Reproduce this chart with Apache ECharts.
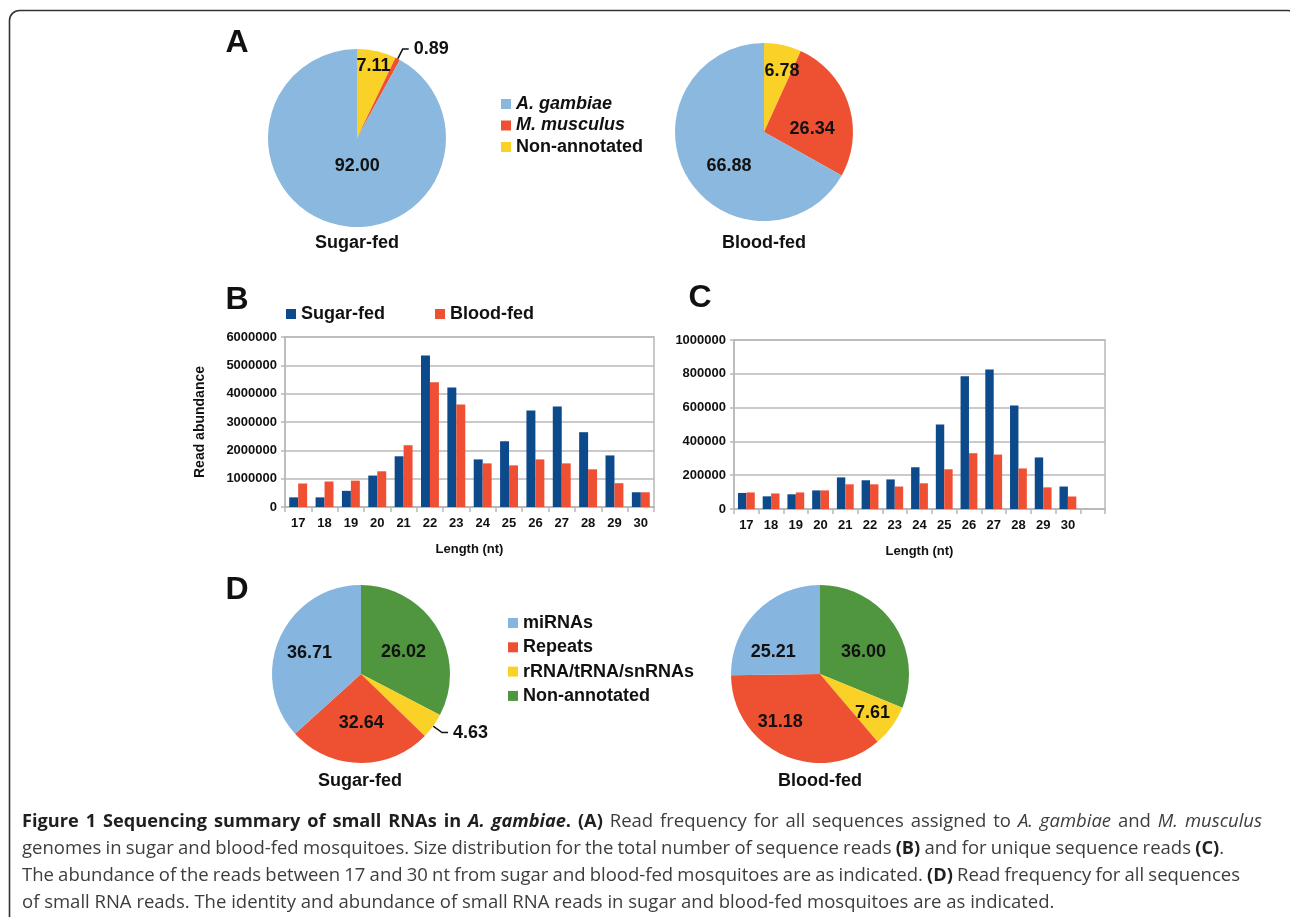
<!DOCTYPE html>
<html><head><meta charset="utf-8">
<script src="https://cdn.jsdelivr.net/npm/echarts/dist/echarts.min.js"></script>
<style>html,body{margin:0;padding:0;background:#fff}#c{width:1290px;height:917px}</style>
</head><body><div id="c"></div>
<script>
// ---- data ----
const lengths = ['17','18','19','20','21','22','23','24','25','26','27','28','29','30'];
const lengthsC = lengths.concat(['']);
const sugarTotal = [340000, 340000, 570000, 1110000, 1790000, 5350000, 4220000, 1680000, 2320000, 3410000, 3550000, 2640000, 1820000, 520000];
const bloodTotal = [830000, 900000, 930000, 1260000, 2180000, 4400000, 3620000, 1540000, 1470000, 1680000, 1540000, 1330000, 840000, 520000];
const sugarUnique = [95000, 75000, 87000, 110000, 187000, 170000, 175000, 247000, 500000, 785000, 826000, 613000, 305000, 133000];
const bloodUnique = [98000, 92000, 98000, 110000, 146000, 146000, 133000, 152000, 235000, 330000, 322000, 240000, 128000, 74000];
const genomeNames = ['Non-annotated', 'M. musculus', 'A. gambiae'];
const genomeSugar = [7.11, 0.89, 92.00];
const genomeBlood = [6.78, 26.34, 66.88];
const rnaNames = ['Non-annotated', 'rRNA/tRNA/snRNAs', 'Repeats', 'miRNAs'];
// slice sizes as drawn in the picture
const rnaSugar = [32.64, 4.63, 26.02, 36.71];
const rnaBlood = [31.18, 7.61, 36.00, 25.21];
// slice labels as printed in the picture
const rnaSugarLabels = ['26.02', '4.63', '32.64', '36.71'];
const rnaBloodLabels = ['36.00', '7.61', '31.18', '25.21'];

// caption lines: [style, text] runs
const captionLines = [
  [['b', 'Figure 1 Sequencing summary of small RNAs in '], ['bi', 'A. gambiae'], ['b', '. (A)'],
   ['n', ' Read frequency for all sequences assigned to '], ['i', 'A. gambiae'], ['n', ' and '], ['i', 'M. musculus']],
  [['n', 'genomes in sugar and blood-fed mosquitoes. Size distribution for the total number of sequence reads '], ['b', '(B)'],
   ['n', ' and for unique sequence reads '], ['b', '(C)'], ['n', '.']],
  [['n', 'The abundance of the reads between 17 and 30 nt from sugar and blood-fed mosquitoes are as indicated. '], ['b', '(D)'],
   ['n', ' Read frequency for all sequences']],
  [['n', 'of small RNA reads. The identity and abundance of small RNA reads in sugar and blood-fed mosquitoes are as indicated.']]
];

const genomeColors = ['#fad227', '#ee5132', '#8bb8df'];
const rnaColors = ['#4f963e', '#fad227', '#ee5132', '#86b5df'];
const BLUE = '#0c4a8b', RED = '#ef5033', GRIDC = '#b8b8b8';
const F = 'Liberation Sans, Arial, sans-serif';
const CF = 'Open Sans';

// label nudges (pixels) to follow the reference's label placement
const labelNudge = [
  [[6, -26], [0, 0], [12, -18]],
  [[8, -15], [3, 12], [6, 10]],
  [[2, 3], [0, 0], [1, 2], [-8, -2]],
  [[4, 5], [14, 11], [-20, 5], [-13, 11]]
];

const chart = echarts.init(document.getElementById('c'), null, {renderer: 'canvas'});

function pieData(names, vals, colors, outsideIdx) {
  return names.map((n, i) => {
    const d = {name: n, value: vals[i], itemStyle: {color: colors[i]}};
    if (i === outsideIdx) {
      d.label = {position: 'outside'};
      d.labelLine = {show: true, length: 11, length2: 6, smooth: false, lineStyle: {color: '#111', width: 1.5}};
    }
    return d;
  });
}
function pie(si, center, names, vals, colors, outsideIdx, texts) {
  return {
    type: 'pie', center: center, radius: 89, startAngle: 90, clockwise: true,
    avoidLabelOverlap: false, legendHoverLink: false, silent: true,
    itemStyle: {borderWidth: 0},
    label: {show: true, position: 'inside', color: '#111', fontFamily: F, fontWeight: 'bold', fontSize: 18,
      formatter: p => texts ? texts[p.dataIndex] : p.value.toFixed(2)},
    labelLine: {show: false},
    labelLayout: p => {
      const o = labelNudge[si][p.dataIndex] || [0, 0];
      return {dx: o[0], dy: o[1]};
    },
    data: pieData(names, vals, colors, outsideIdx)
  };
}
function valAxis(gi, max, interval) {
  return {
    type: 'value', gridIndex: gi, min: 0, max: max, interval: interval,
    axisLine: {show: true, lineStyle: {color: GRIDC, width: 1.5}},
    axisTick: {show: true, length: 4, lineStyle: {color: GRIDC, width: 1.5}},
    axisLabel: {color: '#111', fontFamily: F, fontWeight: 'bold', fontSize: 13, margin: 8,
      formatter: v => String(v)},
    splitLine: {show: true, lineStyle: {color: GRIDC, width: 1.5}}
  };
}
function catAxis(gi, cats) {
  return {
    type: 'category', gridIndex: gi, data: cats,
    name: 'Length (nt)', nameLocation: 'middle', nameGap: 36,
    nameTextStyle: {color: '#111', fontFamily: F, fontWeight: 'bold', fontSize: 13},
    axisLine: {show: true, lineStyle: {color: GRIDC, width: 1.5}},
    axisTick: {show: true, length: 5, alignWithLabel: false, lineStyle: {color: GRIDC, width: 1.5}},
    axisLabel: {color: '#111', fontFamily: F, fontWeight: 'bold', fontSize: 13, margin: 10, interval: 0}
  };
}
function bars(gi, name, data, color) {
  return {type: 'bar', name: name, xAxisIndex: gi, yAxisIndex: gi, data: data,
    itemStyle: {color: color}, barGap: '0%', barCategoryGap: '32%', silent: true};
}
function txt(x, y, text, size, extra) {
  return {type: 'text', x: x, y: y, silent: true,
    style: Object.assign({text: text, fontFamily: F, fontWeight: 'bold', fontSize: size, fill: '#111',
      align: 'center', verticalAlign: 'middle'}, extra || {})};
}

// caption styling
const CS = 18.5, CB = 18.2;
const capStyles = {
  b: {fontFamily: CF, fontSize: CB, fontWeight: 'bold', fontStyle: 'normal', color: '#1f1f1f'},
  bi: {fontFamily: CF, fontSize: CB, fontWeight: 'bold', fontStyle: 'italic', color: '#1f1f1f'},
  n: {fontFamily: CF, fontSize: CS, fontWeight: 'normal', fontStyle: 'normal', color: '#3d3d3d'},
  i: {fontFamily: CF, fontSize: CS, fontWeight: 'normal', fontStyle: 'italic', color: '#3d3d3d'}
};
const captionRight = [1262, 1224, 1240, null];
const captionLeft = 22;
const captionY = [822, 849, 876, 903];
const mctx = document.createElement('canvas').getContext('2d');
function measure(st, t) {
  const s = capStyles[st];
  mctx.font = s.fontStyle + ' ' + s.fontWeight + ' ' + s.fontSize + 'px "' + s.fontFamily + '"';
  return mctx.measureText(t).width;
}
function buildLine(runs, right) {
  const rich = {};
  Object.keys(capStyles).forEach(k => {
    const s = capStyles[k];
    rich[k] = {fontFamily: s.fontFamily, fontSize: s.fontSize, fontWeight: s.fontWeight, fontStyle: s.fontStyle,
      color: s.color, fill: s.color};
  });
  const toks = [];
  runs.forEach(([st, t]) => {
    t.split(/( )/).forEach(part => { if (part !== '') toks.push([st, part]); });
  });
  let wordsW = 0, nsp = 0;
  toks.forEach(([st, p]) => { if (p === ' ') nsp++; else wordsW += measure(st, p); });
  let spW = null;
  if (right != null && nsp > 0) spW = (right - captionLeft - wordsW) / nsp;
  let str = '';
  toks.forEach(([st, p]) => {
    if (p === ' ' && spW != null) str += '{sp_' + st + '| }';
    else str += '{' + st + '|' + p + '}';
  });
  if (spW != null) {
    Object.keys(capStyles).forEach(k => { rich['sp_' + k] = Object.assign({}, rich[k], {width: spW}); });
  }
  return {text: str, rich: rich};
}

const graphics = [
  {type: 'rect', silent: true, shape: {x: 9.5, y: 10.5, width: 1288, height: 940, r: 10},
    style: {fill: 'none', stroke: '#333', lineWidth: 1.6}},
  txt(237, 43, 'A', 32), txt(237, 300, 'B', 32), txt(700, 298, 'C', 32), txt(237, 590, 'D', 32),
  txt(357, 243, 'Sugar-fed', 18), txt(764, 243, 'Blood-fed', 18),
  txt(360, 781, 'Sugar-fed', 18), txt(820, 781, 'Blood-fed', 18)
];
captionLines.forEach((runs, k) => {
  const L = buildLine(runs, captionRight[k]);
  graphics.push({type: 'text', x: captionLeft, y: captionY[k], silent: true,
    style: {text: L.text, rich: L.rich, fontFamily: CF, fontSize: CS, fill: '#333', align: 'left', verticalAlign: 'middle'}});
});

const option = {
  animation: false,
  backgroundColor: '#fff',
  grid: [
    {left: 285, right: 636, top: 337, bottom: 410, show: true, borderColor: GRIDC, borderWidth: 1.5, containLabel: false},
    {left: 734, right: 185, top: 340, bottom: 408, show: true, borderColor: GRIDC, borderWidth: 1.5, containLabel: false}
  ],
  xAxis: [catAxis(0, lengths), catAxis(1, lengthsC)],
  yAxis: [
    Object.assign(valAxis(0, 6000000, 1000000), {name: 'Read abundance', nameLocation: 'middle', nameGap: 78,
      nameTextStyle: {color: '#111', fontFamily: F, fontWeight: 'bold', fontSize: 14}}),
    valAxis(1, 1000000, 200000)
  ],
  legend: [
    {orient: 'vertical', left: 496, top: 90, itemWidth: 10, itemHeight: 10, itemGap: 3.5, icon: 'rect',
      selectedMode: false,
      data: ['A. gambiae', 'M. musculus', 'Non-annotated'],
      formatter: n => n === 'Non-annotated' ? n : '{i|' + n + '}',
      textStyle: {color: '#111', fontFamily: F, fontWeight: 'bold', fontSize: 18,
        rich: {i: {fontStyle: 'italic', fontWeight: 'bold', fontFamily: F, fontSize: 18, color: '#111'}}}},
    {orient: 'vertical', left: 503, top: 609, itemWidth: 10, itemHeight: 10, itemGap: 6.3, icon: 'rect',
      selectedMode: false,
      data: [{name: 'miRNAs', itemStyle: {color: rnaColors[3]}}, {name: 'Repeats', itemStyle: {color: rnaColors[2]}},
        {name: 'rRNA/tRNA/snRNAs', itemStyle: {color: rnaColors[1]}}, {name: 'Non-annotated', itemStyle: {color: rnaColors[0]}}],
      textStyle: {color: '#111', fontFamily: F, fontWeight: 'bold', fontSize: 18}},
    {orient: 'horizontal', left: 281, top: 300, itemWidth: 10, itemHeight: 10, itemGap: 50, icon: 'rect',
      selectedMode: false,
      data: ['Sugar-fed', 'Blood-fed'],
      textStyle: {color: '#111', fontFamily: F, fontWeight: 'bold', fontSize: 18}}
  ],
  series: [
    pie(0, [357, 138], genomeNames, genomeSugar, genomeColors, 1, null),
    pie(1, [764, 132], genomeNames, genomeBlood, genomeColors, -1, null),
    pie(2, [361, 674], rnaNames, rnaSugar, rnaColors, 1, rnaSugarLabels),
    pie(3, [820, 674], rnaNames, rnaBlood, rnaColors, -1, rnaBloodLabels),
    bars(0, 'Sugar-fed', sugarTotal, BLUE),
    bars(0, 'Blood-fed', bloodTotal, RED),
    bars(1, 'Sugar-fed', sugarUnique, BLUE),
    bars(1, 'Blood-fed', bloodUnique, RED)
  ],
  graphic: graphics
};
chart.setOption(option);
</script>
</body></html>
